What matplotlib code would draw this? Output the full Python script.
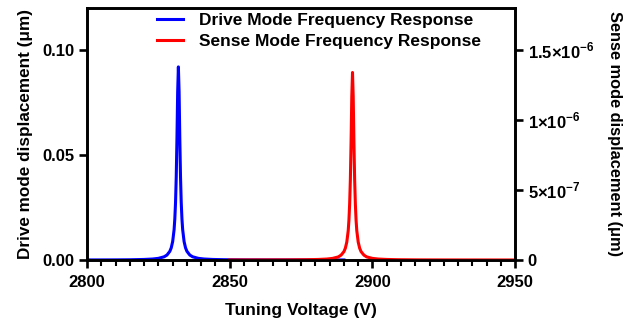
import numpy as np
import matplotlib
matplotlib.use("Agg")
import matplotlib.pyplot as plt

plt.rcParams['font.family'] = ['Liberation Sans', 'DejaVu Sans']
plt.rcParams['font.weight'] = 'bold'
plt.rcParams['mathtext.fontset'] = 'custom'
plt.rcParams['mathtext.rm'] = 'Liberation Sans:bold'
plt.rcParams['mathtext.bf'] = 'Liberation Sans:bold'

# drive mode response (um) vs tuning voltage
driveV = [2800, 2805, 2810, 2815, 2820, 2823, 2825, 2827, 2828, 2829, 2829.5,
          2830, 2830.5, 2830.75, 2831, 2831.25, 2831.5, 2831.75, 2832,
          2832.25, 2832.5, 2832.75, 2833, 2833.25, 2833.5, 2834, 2834.5, 2835,
          2836, 2837, 2839, 2841, 2844, 2848, 2855, 2865, 2875, 2885, 2890]
driveAmp = [0.00004, 0.00005, 0.00007, 0.00012, 0.00027, 0.00048, 0.00079,
            0.00153, 0.00237, 0.00413, 0.00582, 0.0088, 0.0145, 0.0196, 0.0273,
            0.0395, 0.0578, 0.0801, 0.092, 0.0801, 0.0578, 0.0395, 0.0273,
            0.0196, 0.0145, 0.0088, 0.00582, 0.00413, 0.00237, 0.00153, 0.00079,
            0.00048, 0.00027, 0.00015, 0.00007, 0.00004, 0.00003, 0.00002, 0.00002]

# sense mode response (um) vs tuning voltage
senseV = [2850, 2861, 2870, 2877, 2881, 2884, 2886, 2888, 2889, 2890, 2890.5,
          2891, 2891.5, 2891.75, 2892, 2892.25, 2892.5, 2892.75, 2893,
          2893.25, 2893.5, 2893.75, 2894, 2894.25, 2894.5, 2895, 2895.5, 2896,
          2897, 2898, 2900, 2902, 2905, 2909, 2916, 2925, 2936, 2950]
senseAmp = [0.003e-7, 0.006e-7, 0.01e-7, 0.022e-7, 0.04e-7, 0.07e-7, 0.115e-7,
            0.22e-7, 0.35e-7, 0.60e-7, 0.85e-7, 1.28e-7, 2.1e-7, 2.85e-7, 4.0e-7,
            5.75e-7, 8.4e-7, 11.67e-7, 13.4e-7, 11.67e-7, 8.4e-7, 5.75e-7, 4.0e-7,
            2.85e-7, 2.1e-7, 1.28e-7, 0.85e-7, 0.60e-7, 0.35e-7, 0.22e-7, 0.115e-7,
            0.07e-7, 0.04e-7, 0.022e-7, 0.01e-7, 0.006e-7, 0.004e-7, 0.002e-7]

xticks = [2800, 2850, 2900, 2950]
leftTicks = [0.00, 0.05, 0.10]
rightTicks = [0, 5e-7, 1e-6, 1.5e-6]
rightLabels = ['0', r'$5{\times}10^{-7}$', r'$1{\times}10^{-6}$', r'$1.5{\times}10^{-6}$']

fig = plt.figure(figsize=(6.4, 3.24), dpi=100)
ax = fig.add_axes([0.136, 0.1975, 0.669, 0.7775])
ax2 = ax.twinx()

l1, = ax.plot(driveV, driveAmp, color='#0000ff', lw=2.2, label='Drive Mode Frequency Response')
l2, = ax2.plot(senseV, senseAmp, color='#ff0000', lw=2.2, label='Sense Mode Frequency Response')

ax.set_xlim(2800, 2950)
ax.set_ylim(0, 0.12)
ax2.set_ylim(0, 1.8e-6)
ax.set_xticks(xticks)
ax.set_xticks(np.arange(2800, 2951, 5), minor=True)
ax.set_yticks(leftTicks)
ax.set_yticklabels(['%.2f' % v for v in leftTicks])
ax2.set_yticks(rightTicks)
ax2.set_yticklabels(rightLabels)

for a in (ax, ax2):
    for s in a.spines.values():
        s.set_linewidth(1.9)
    a.tick_params(which='major', length=6, width=1.9, labelsize=12, pad=3)
    a.tick_params(which='minor', length=4, width=1.5)
ax.tick_params(axis='x', which='major', pad=5)

ax.set_xlabel('Tuning Voltage (V)', fontsize=12.5, fontweight='bold', labelpad=9)
ax.set_ylabel('Drive mode displacement (\u03bcm)', fontsize=12.3, fontweight='bold', labelpad=7)
ax2.set_ylabel('Sense mode displacement (\u03bcm)', fontsize=11.8, fontweight='bold',
               rotation=270, labelpad=20)

leg = ax2.legend([l1, l2], [l1.get_label(), l2.get_label()], loc='upper left',
                 frameon=False, fontsize=12.5, handlelength=1.5, handletextpad=0.9,
                 borderaxespad=0.0, borderpad=0.3, labelspacing=0.3,
                 bbox_to_anchor=(0.152, 1.0))

fig.savefig('out.png', dpi=100)
